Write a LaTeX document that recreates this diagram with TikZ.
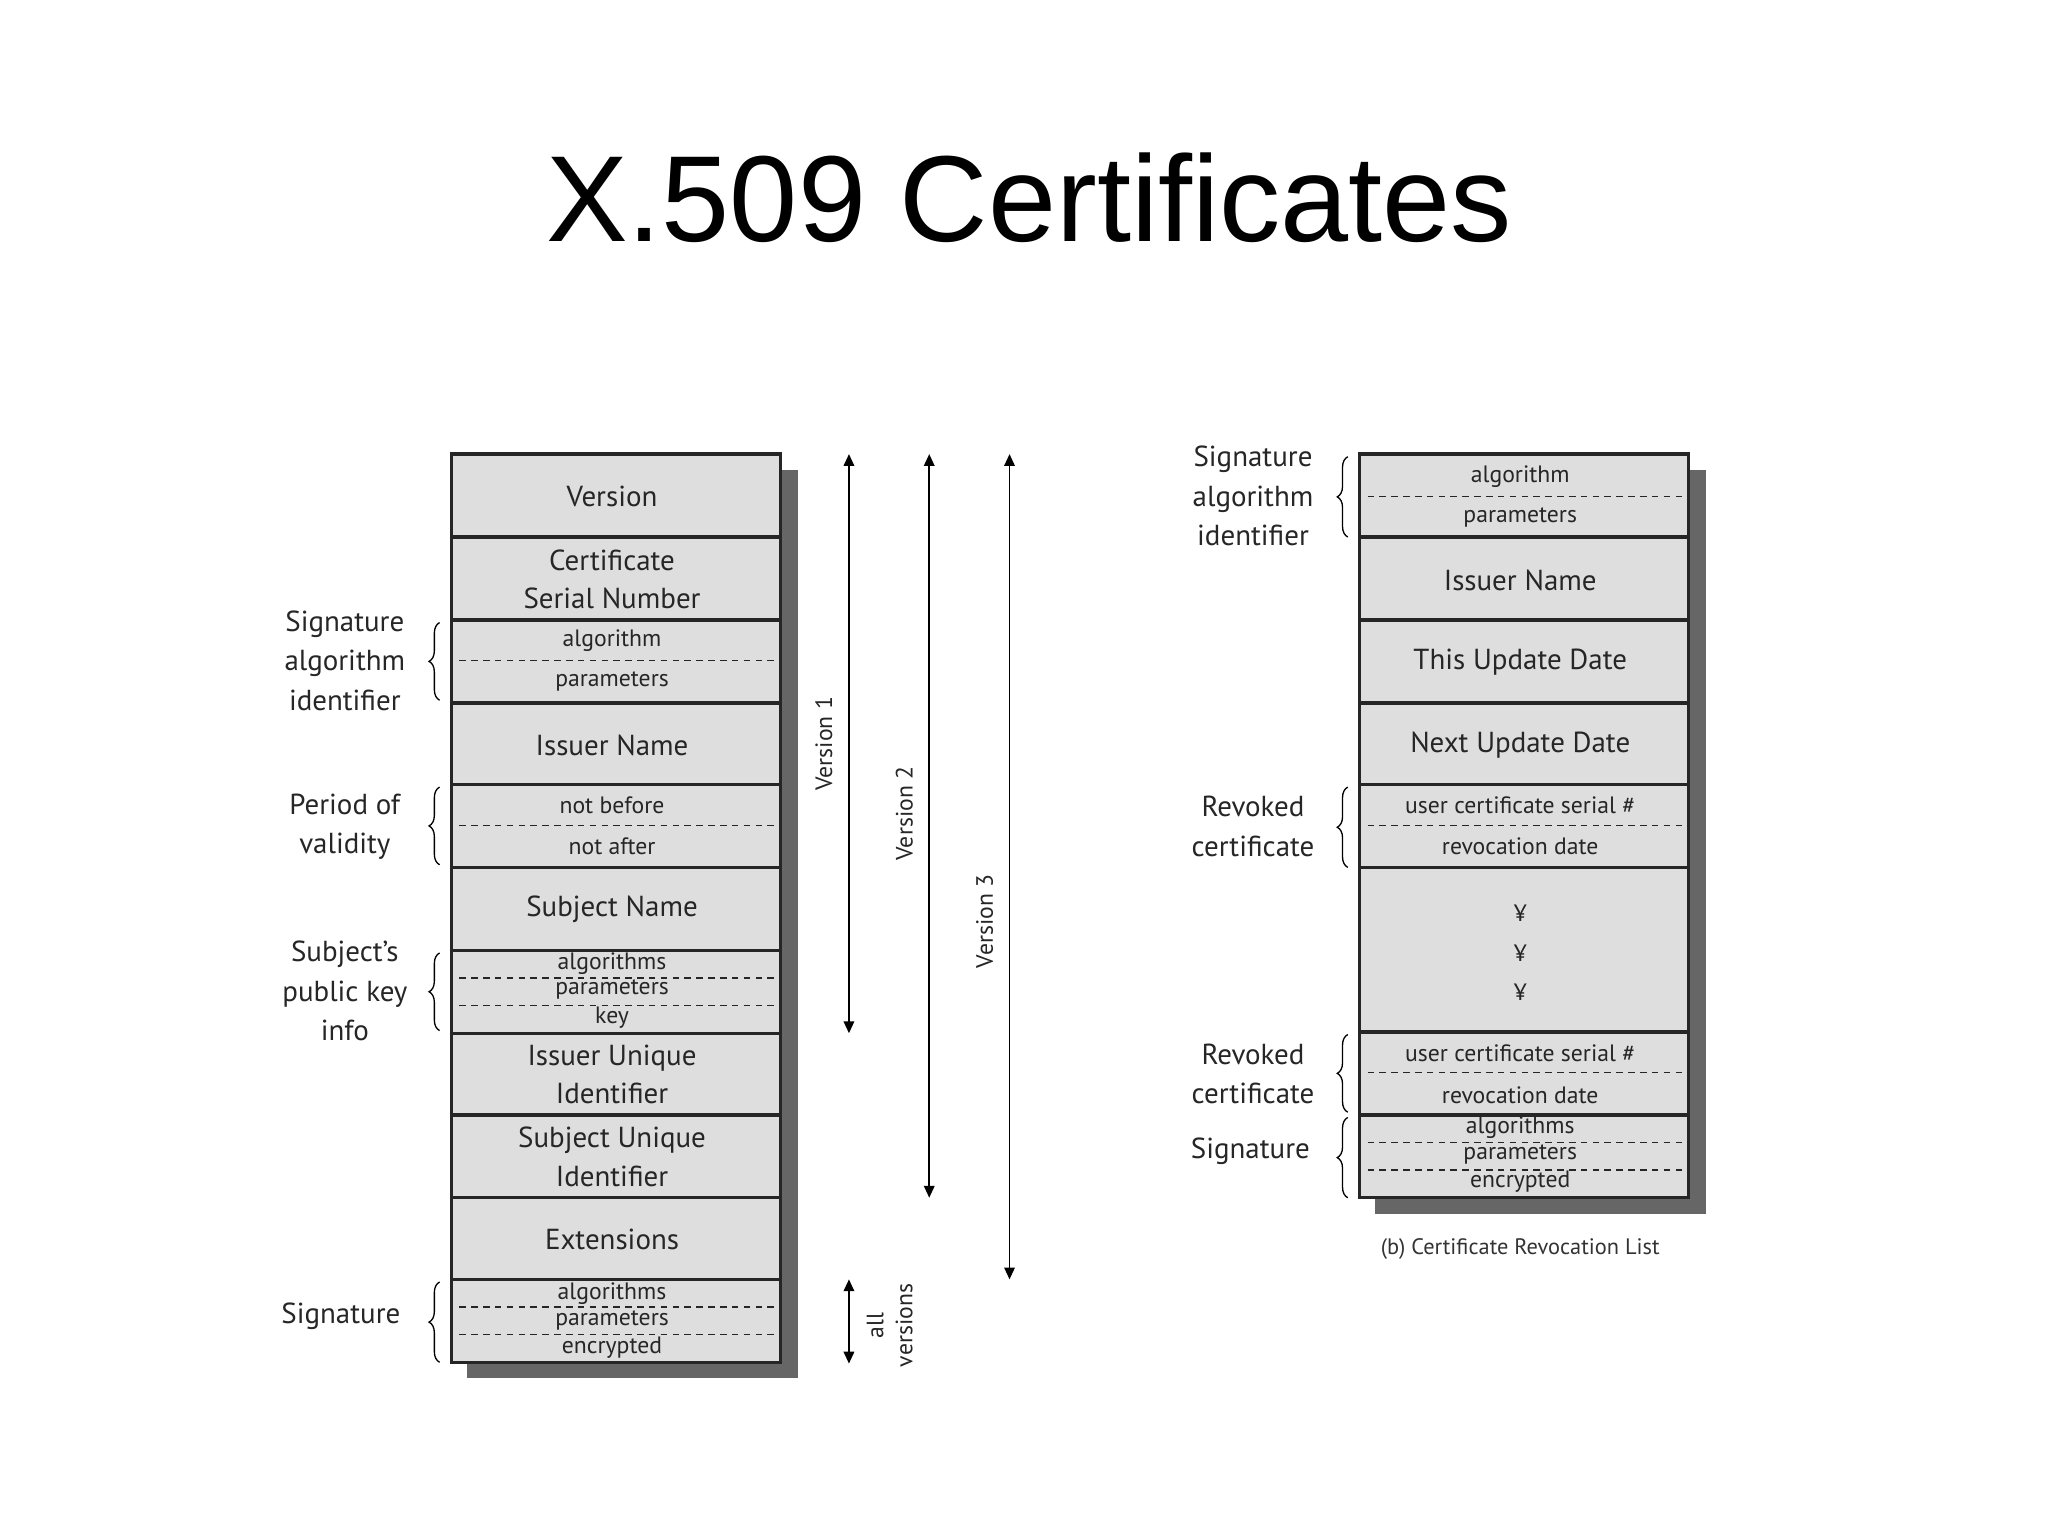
\documentclass[tikz,border=0pt]{standalone}
\usepackage{fontspec}
\setmainfont{PT Sans}
\newfontfamily\titlefont{Liberation Sans}
\usetikzlibrary{decorations.pathreplacing,arrows.meta}
\begin{document}
\begin{tikzpicture}[x=1pt,y=-1pt,
  cell/.style={draw=black!85,line width=2.6pt,fill=black!13},
  shadowbox/.style={fill=black!60},
  sep/.style={black!85,line width=1pt,dash pattern=on 5pt off 4pt},
  big/.style={font=\fontsize{22}{29}\selectfont,align=center,text=black!85},
  small/.style={font=\fontsize{18}{20}\selectfont,text=black!85},
  lab/.style={font=\fontsize{22}{30}\selectfont,align=center,text=black!85},
  br/.style={decorate,decoration={brace,amplitude=8pt},line width=1pt},
  arr/.style={{Triangle[length=9pt,width=8pt]}-{Triangle[length=9pt,width=8pt]},line width=1.3pt},
  vlab/.style={font=\fontsize{18}{20}\selectfont,rotate=90,text=black!85,align=center}]
\useasboundingbox (0,0) rectangle (1556,1167);
\node[font=\titlefont\fontsize{93}{100}\selectfont] (title) at (782,150) {X.509 Certificates};
% left certificate
\fill[shadowbox] (355,357) rectangle (606,1047);
\foreach \a/\b in {345/408,408/471,471/534,534/596,596/659,659/722,722/785,785/847,847/910,910/972,972/1035}
  \draw[cell] (343,\a) rectangle (593,\b);
\foreach \y in {502,627,743,764,993,1014} \draw[sep] (349,\y) -- (589,\y);
\node[big] (ver) at (465,377) {Version};
\node[big] (csn) at (465,440) {Certificate\\Serial Number};
\node[small] (alg) at (465,487) {algorithm};
\node[small] (par) at (465,518) {parameters};
\node[big] (iss) at (465,566) {Issuer Name};
\node[small] (nb) at (465,612) {not before};
\node[small] (na) at (465,643) {not after};
\node[big] (sub) at (465,691) {Subject Name};
\node[small] (pa) at (465,732) {algorithms};
\node[small] (pp) at (465,752) {parameters};
\node[small] (pk) at (465,773) {key};
\node[big] (iui) at (465,816) {Issuer Unique\\Identifier};
\node[big] (sui) at (465,879) {Subject Unique\\Identifier};
\node[big] (ext) at (465,942) {Extensions};
\node[small] (sa) at (465,983) {algorithms};
\node[small] (sp) at (465,1003) {parameters};
\node[small] (se) at (465,1024) {encrypted};
% braces left
\draw[br] (334,532) -- (334,473);
\draw[br] (334,657) -- (334,598);
\draw[br] (334,783) -- (334,724);
\draw[br] (334,1035) -- (334,974);
\node[lab] (l1) at (262,502) {Signature\\algorithm\\identifier};
\node[lab] (l2) at (262,628) {Period of\\validity};
\node[lab] (l3) at (262,753) {Subject's\\public key\\info};
\node[lab] (l4) at (259,1000) {Signature};
% version arrows
\coordinate (v1t) at (645,345); \coordinate (v1b) at (645,785);
\coordinate (v2t) at (706,345); \coordinate (v2b) at (706,910);
\coordinate (v3t) at (767,345); \coordinate (v3b) at (767,972);
\coordinate (avt) at (645,972); \coordinate (avb) at (645,1036);
\draw[arr] (v1t) -- (v1b);
\draw[arr] (v2t) -- (v2b);
\draw[arr] (v3t) -- (v3b);
\draw[arr] (avt) -- (avb);
\node[vlab] (t1) at (626,565) {Version 1};
\node[vlab] (t2) at (687,618) {Version 2};
\node[vlab] (t3) at (748,700) {Version 3};
\node[vlab,font=\fontsize{18}{22}\selectfont] (t4) at (676,1007) {all\\versions};
% right CRL
\fill[shadowbox] (1045,357) rectangle (1296,922);
\foreach \a/\b in {345/408,408/471,471/534,534/596,596/659,659/784,784/847,847/910}
  \draw[cell] (1033,\a) rectangle (1283,\b);
\foreach \y in {377,627,815,868,889} \draw[sep] (1039,\y) -- (1279,\y);
\node[small] (ra) at (1155,362) {algorithm};
\node[small] (rp) at (1155,393) {parameters};
\node[big] (ri) at (1155,441) {Issuer Name};
\node[big] (rt) at (1155,503) {This Update Date};
\node[big] (rn) at (1155,566) {Next Update Date};
\node[small] (u1) at (1155,612) {user certificate serial \#};
\node[small] (d1) at (1155,643) {revocation date};
\node[small] (y1) at (1155,694) {¥};
\node[small] (y2) at (1155,724) {¥};
\node[small] (y3) at (1155,754) {¥};
\node[small] (u2) at (1155,800) {user certificate serial \#};
\node[small] (d2) at (1155,832) {revocation date};
\node[small] (ca) at (1155,857) {algorithms};
\node[small] (cp) at (1155,877) {parameters};
\node[small] (ce) at (1155,898) {encrypted};
\draw[br] (1024,408) -- (1024,347);
\draw[br] (1024,659) -- (1024,598);
\draw[br] (1024,845) -- (1024,786);
\draw[br] (1024,910) -- (1024,849);
\node[lab] (r1) at (952,377) {Signature\\algorithm\\identifier};
\node[lab] (r2) at (952,628) {Revoked\\certificate};
\node[lab] (r3) at (952,816) {Revoked\\certificate};
\node[lab] (r4) at (950,875) {Signature};
\node[font=\fontsize{17}{20}\selectfont,text=black!80] (cap) at (1155,949) {(b) Certificate Revocation List};
\end{tikzpicture}
\end{document}
